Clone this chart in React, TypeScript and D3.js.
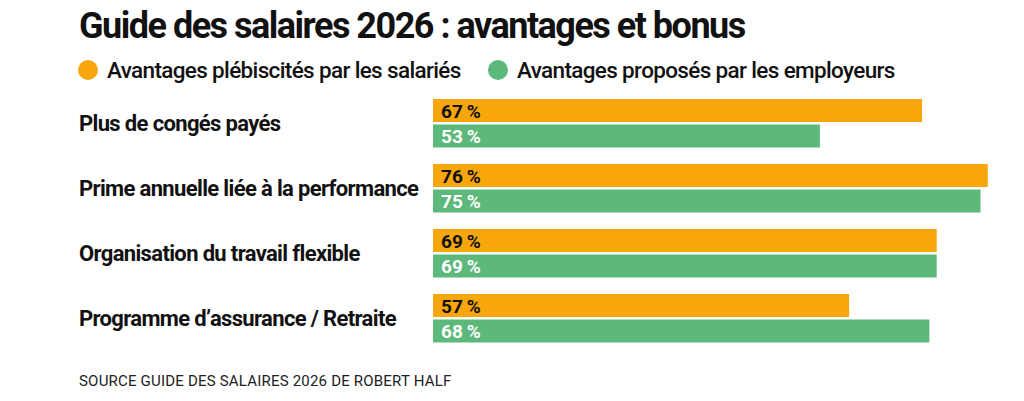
import React from "react";
import * as d3 from "d3";

const categories = [
  "Plus de congés payés",
  "Prime annuelle liée à la performance",
  "Organisation du travail flexible",
  "Programme d’assurance / Retraite",
];
const salaries = [67, 76, 69, 57];
const employeurs = [53, 75, 69, 68];
const seriesNames = [
  "Avantages plébiscités par les salariés",
  "Avantages proposés par les employeurs",
];

const ORANGE = "#f7a70b";
const GREEN = "#5db87b";
const FONT = "Roboto, 'Liberation Sans', sans-serif";

export default function App() {
  const width = 1024;
  const height = 401;

  const x = d3.scaleLinear().domain([0, 100]).range([433, 1163]);
  const y = d3
    .scaleBand<string>()
    .domain(categories)
    .range([99, 359])
    .paddingInner(0);
  const barH = 23;
  const gap = 2.5;
  const pct = (v: number) => `${v}\u2009%`;

  return (
    <svg width={width} height={height} style={{ position: "absolute", left: 0, top: 0 }}>
      <rect width={width} height={height} fill="#fff" />
      <text
        x={79}
        y={38}
        fontFamily={FONT}
        fontWeight={700}
        fontSize={36}
        letterSpacing={-1.5}
        fill="#111"
      >
        Guide des salaires 2026 : avantages et bonus
      </text>

      {seriesNames.map((name, i) => {
        const cx = i === 0 ? 88 : 498;
        return (
          <g key={name}>
            <circle cx={cx} cy={70} r={10} fill={i === 0 ? ORANGE : GREEN} />
            <text
              x={cx + 19}
              y={78}
              fontFamily={FONT}
              fontWeight={500}
              fontSize={22.5}
              letterSpacing={-0.65}
              fill="#111"
            >
              {name}
            </text>
          </g>
        );
      })}

      {categories.map((c, i) => {
        const top = y(c)!;
        return (
          <g key={c}>
            <text
              x={79}
              y={top + barH + gap / 2 + 7.5}
              fontFamily={FONT}
              fontWeight={700}
              fontSize={22}
              letterSpacing={-0.65}
              fill="#111"
            >
              {c}
            </text>
            <rect x={x(0)} y={top} width={x(salaries[i]) - x(0)} height={barH} fill={ORANGE} />
            <rect
              x={x(0)}
              y={top + barH + gap}
              width={x(employeurs[i]) - x(0)}
              height={barH}
              fill={GREEN}
            />
            <text
              x={x(0) + 8}
              y={top + barH / 2 + 7}
              fontFamily={FONT}
              fontWeight={700}
              fontSize={19}
              fill="#111"
            >
              {pct(salaries[i])}
            </text>
            <text
              x={x(0) + 8}
              y={top + barH + gap + barH / 2 + 7}
              fontFamily={FONT}
              fontWeight={700}
              fontSize={19}
              fill="#fff"
            >
              {pct(employeurs[i])}
            </text>
          </g>
        );
      })}

      <text x={79} y={386} fontFamily={FONT} fontSize={15} letterSpacing={0.2} fill="#222">
        SOURCE GUIDE DES SALAIRES 2026 DE ROBERT HALF
      </text>
    </svg>
  );
}
